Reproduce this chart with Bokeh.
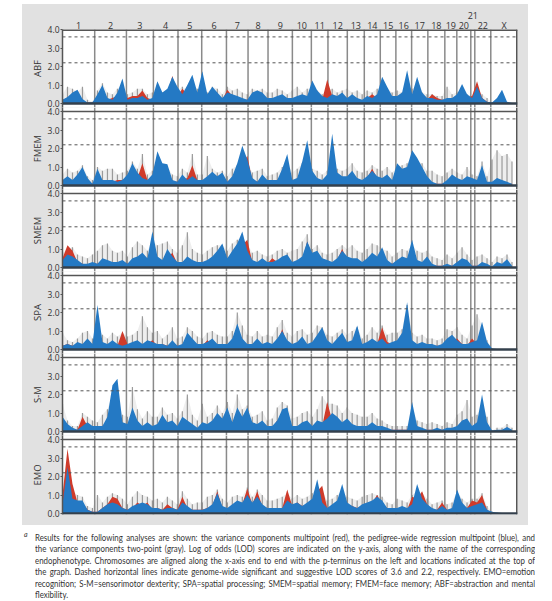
import numpy as np
from bokeh.plotting import figure
from bokeh.models import (Range1d, LinearAxis, FixedTicker, Span, Div, Arrow,
                          NumeralTickFormatter, ColumnDataSource)
from bokeh.layouts import column
from bokeh.embed import file_html
from bokeh.resources import INLINE

# ---------------- data ----------------
chrom_names = [str(i) for i in range(1, 23)] + ["X"]
chrom_len_cm = [258, 254, 216, 197, 190, 198, 173, 160, 195, 152, 133, 155,
                136, 128, 125, 126, 130, 136, 96, 112, 32, 128, 214]
step_cm = 40            # spacing of the LOD values along the genome
lod_ticks = [0, 1, 2, 3, 4]
significant_lod = 3.6
suggestive_lod = 2.2
phenotypes = ["ABF", "FMEM", "SMEM", "SPA", "S-M", "EMO"]

abf_blue = [0.2, 0.35, 0.6, 0.75, 0.25, 0.05, 0.05,  0.5, 1.0, 0.3, 0.2, 0.6, 1.35,
            0.2, 0.3, 0.3, 0.4, 0.2, 0.3,  1.2, 0.6, 0.8, 1.45, 0.9,  0.5, 1.0, 1.55, 0.6,
            1.75, 0.5, 0.9, 0.6, 0.3,  0.6, 0.5, 0.4, 0.3, 0.2,  0.6, 0.7, 0.6, 0.3,
            0.3, 0.4, 0.5, 0.3,  0.3, 0.4, 0.5, 0.4,  1.25, 0.7, 0.4, 0.3,  0.5, 0.4, 0.6,
            0.3, 0.5, 0.3, 0.2,  0.4, 0.3, 0.5,  1.45, 0.9, 0.4,  0.4, 0.6, 1.8,
            0.5, 1.45, 0.6, 0.3,  0.3, 0.2, 0.2,  0.3, 0.3,  0.5, 1.05, 0.5,  0.3,
            0.9, 0.3, 0.1,  0.05, 0.3, 0.75, 0.1, 0.03]
abf_red = [0.2, 0.3, 0.4, 0.3, 0.1, 0.05, 0.05,  0.3, 0.4, 0.2, 0.3, 0.4, 0.5,
           0.3, 0.4, 0.4, 0.7, 0.3, 0.2,  0.4, 0.3, 0.5, 1.5, 0.4,  0.8, 0.5, 0.6, 0.3,
           0.3, 0.2, 0.4, 0.3, 0.2,  0.75, 0.4, 0.3, 0.2, 0.2,  0.3, 0.4, 0.3, 0.2,
           0.2, 0.3, 0.3, 0.2,  0.2, 0.3, 0.3, 0.3,  0.5, 0.3, 0.2, 1.3,  0.4, 0.2, 0.3,
           0.2, 0.3, 0.2, 0.1,  0.3, 0.5, 0.3,  0.4, 0.3, 0.2,  0.2, 0.3, 0.4,
           0.3, 0.7, 0.3, 0.2,  0.5, 0.3, 0.2,  0.2, 0.2,  0.3, 0.4, 0.3,  0.4,
           1.2, 0.3, 0.1,  0.02, 0.02, 0.02, 0.02, 0.02]
abf_gray = [0.5, 0.9, 0.8, 0.6, 0.9, 0.2, 0.1,  0.7, 1.1, 0.6, 0.5, 0.8, 1.0,
            0.5, 0.6, 0.8, 0.8, 0.5, 0.6,  0.9, 0.6, 0.7, 1.0, 0.7,  0.9, 0.7, 1.0, 0.8,
            0.7, 0.6, 0.9, 0.8, 0.5,  0.9, 0.7, 0.8, 0.6, 0.5,  0.8, 0.7, 0.8, 0.6,
            0.6, 0.8, 0.7, 0.5,  0.7, 0.9, 0.6, 0.8,  0.8, 0.7, 0.5, 0.7,  0.8, 0.6, 0.7,
            0.8, 0.6, 0.7, 0.5,  0.7, 0.6, 0.8,  0.9, 0.8, 0.6,  0.7, 0.6, 0.9,
            0.8, 0.9, 0.6, 0.5,  0.5, 0.4, 0.4,  0.9, 0.5,  0.6, 0.8, 0.5,  0.4,
            0.8, 0.5, 0.3,  0.02, 0.02, 0.02, 0.02, 0.02]

fmem_blue = [0.3, 0.5, 0.3, 0.6, 1.0, 0.4, 0.1,  0.9, 0.3, 0.3, 0.3, 0.2, 0.3,
             0.6, 1.2, 0.7, 0.4, 0.3, 0.6,  1.85, 1.2, 1.15, 0.3, 0.2,  0.6, 0.3, 0.5, 0.3,
             0.3, 0.5, 0.75, 0.5, 0.7,  0.2, 0.5, 1.2, 2.15, 1.4,  0.4, 0.2, 0.6, 0.3,
             0.3, 0.3, 0.9, 1.7,  0.3, 0.4, 1.3, 2.45,  0.8, 0.4, 0.3, 0.6,  2.8, 0.7, 0.5,
             0.5, 0.8, 0.4, 0.3,  0.5, 0.8, 0.5,  0.4, 0.6, 0.3,  1.2, 0.9, 1.0,
             1.9, 1.5, 1.0, 0.5,  0.2, 0.1, 0.1,  0.3, 0.6,  0.4, 0.3, 0.5,  0.4,
             0.3, 1.1, 0.2,  0.2, 0.4, 0.3, 0.2, 0.1]
fmem_red = [0.2, 0.3, 0.2, 0.4, 0.5, 0.2, 0.1,  0.3, 0.2, 0.2, 0.2, 0.3, 0.3,
            0.4, 0.5, 0.4, 1.2, 0.3, 0.4,  0.9, 0.8, 0.5, 0.2, 0.2,  0.3, 0.4, 1.1, 0.3,
            0.2, 0.3, 0.4, 0.3, 0.3,  0.2, 0.4, 0.8, 1.2, 1.6,  0.3, 0.2, 0.3, 0.2,
            0.2, 0.3, 0.5, 1.0,  0.2, 0.3, 0.8, 1.0,  0.4, 0.3, 0.2, 0.3,  0.9, 0.4, 0.3,
            0.3, 0.4, 0.3, 0.2,  0.4, 0.9, 0.4,  0.3, 0.4, 0.2,  0.5, 0.6, 0.8,
            1.8, 1.2, 0.6, 0.3,  0.1, 0.1, 0.1,  0.2, 0.3,  0.3, 0.2, 0.3,  0.3,
            0.2, 0.4, 0.1,  0.1, 0.2, 0.2, 0.1, 0.1]
fmem_gray = [0.6, 0.9, 0.7, 0.8, 1.1, 0.5, 0.3,  1.0, 0.8, 0.9, 0.9, 0.6, 0.7,
             0.8, 1.3, 0.9, 1.7, 0.6, 0.8,  1.5, 1.1, 1.0, 0.6, 0.5,  0.9, 0.7, 1.7, 0.6,
             0.6, 1.6, 0.9, 0.7, 0.8,  0.5, 0.9, 1.1, 1.5, 1.3,  0.7, 0.8, 0.9, 0.5,
             0.6, 0.7, 1.0, 1.2,  0.7, 0.9, 1.2, 1.4,  0.9, 0.8, 0.6, 0.8,  1.2, 0.9, 0.8,
             0.9, 1.2, 0.8, 0.7,  0.8, 1.1, 0.9,  0.8, 1.0, 0.7,  1.0, 1.1, 1.2,
             1.5, 1.3, 1.2, 0.8,  0.8, 0.6, 0.5,  0.7, 0.9,  0.7, 0.6, 1.0,  0.6,
             0.5, 1.3, 0.5,  1.4, 1.9, 1.6, 1.7, 1.3]

smem_blue = [0.4, 0.7, 0.6, 0.4, 0.2, 0.2, 0.3,  0.2, 0.5, 0.4, 0.3, 0.3, 0.4,
             0.2, 0.5, 0.6, 0.8, 0.5, 1.95,  0.6, 0.4, 1.0, 0.6, 0.3,  0.3, 0.6, 0.4, 0.3,
             0.3, 0.4, 0.6, 0.9, 1.3,  0.5, 0.9, 1.3, 1.95, 0.9,  0.4, 0.3, 0.5, 0.3,
             0.3, 0.4, 0.6, 0.7,  0.3, 0.4, 0.6, 1.4,  0.8, 0.9, 0.5, 0.4,  0.3, 0.5, 0.9,
             0.6, 0.5, 0.5, 0.3,  0.5, 0.8, 0.6,  1.1, 0.4, 0.2,  0.4, 0.6, 0.5,
             1.5, 0.4, 0.3, 0.6,  0.2, 0.1, 0.1,  0.2, 0.1,  0.3, 0.5, 0.4,  0.1,
             0.1, 0.3, 0.2,  0.05, 0.3, 0.2, 0.45, 0.1]
smem_red = [0.5, 1.2, 0.9, 0.3, 0.2, 0.1, 0.2,  0.2, 0.3, 0.3, 0.2, 0.2, 0.3,
            0.2, 0.3, 0.4, 0.4, 0.3, 0.7,  0.4, 0.3, 0.5, 0.8, 0.2,  0.2, 0.4, 0.3, 0.2,
            0.2, 0.3, 0.4, 0.5, 0.6,  0.4, 0.8, 1.0, 1.2, 1.5,  0.3, 0.2, 0.3, 0.2,
            0.5, 0.3, 0.4, 0.4,  0.2, 0.3, 0.4, 1.4,  0.6, 0.8, 0.4, 0.3,  0.2, 0.4, 1.0,
            0.4, 0.3, 0.3, 0.2,  0.3, 0.5, 0.4,  0.5, 0.3, 0.2,  0.3, 0.4, 0.3,
            0.8, 0.3, 0.2, 0.5,  0.1, 0.1, 0.1,  0.1, 0.1,  0.2, 0.3, 0.2,  0.1,
            0.1, 0.2, 0.1,  0.02, 0.1, 0.1, 0.2, 0.05]
smem_gray = [0.8, 1.0, 1.1, 0.7, 0.6, 0.5, 0.7,  0.9, 1.2, 1.3, 0.9, 0.8, 0.9,
             0.6, 1.1, 1.4, 1.2, 0.9, 1.4,  1.2, 1.3, 1.4, 1.0, 0.8,  1.2, 1.9, 1.0, 0.8,
             0.7, 0.9, 1.1, 1.2, 1.2,  0.9, 1.3, 1.5, 1.6, 1.3,  0.8, 0.9, 0.7, 0.6,
             0.7, 0.9, 1.0, 0.8,  0.9, 1.0, 1.4, 1.8,  1.0, 1.2, 0.8, 0.7,  0.8, 1.0, 1.2,
             1.0, 1.2, 0.9, 0.8,  1.0, 1.3, 1.2,  1.0, 0.9, 0.6,  0.8, 1.0, 0.9,
             1.2, 0.9, 0.8, 0.9,  0.6, 0.5, 0.4,  0.7, 0.5,  0.8, 1.1, 0.7,  0.4,
             0.6, 0.7, 0.5,  0.3, 0.6, 0.5, 0.7, 0.3]

spa_blue = [0.2, 0.3, 0.2, 0.4, 0.3, 0.6, 0.3,  2.4, 0.4, 0.3, 0.5, 0.3, 0.2,
            0.3, 0.4, 0.5, 0.3, 0.5, 0.4,  0.3, 0.3, 0.2, 0.5, 0.2,  0.3, 0.9, 0.6, 0.3,
            0.3, 0.4, 0.6, 0.3, 0.3,  0.3, 0.6, 1.4, 0.6, 0.3,  0.3, 0.6, 0.3, 0.4,
            0.3, 0.6, 1.0, 0.5,  0.3, 0.4, 0.7, 0.3,  0.4, 0.8, 1.2, 0.5,  0.3, 0.6, 0.9,
            0.4, 0.5, 1.3, 0.3,  0.4, 0.6, 0.4,  0.6, 0.3, 0.4,  0.5, 0.9, 2.55,
            0.5, 0.3, 0.4, 0.3,  0.3, 0.2, 0.3,  0.6, 0.8,  0.5, 0.3, 0.3,  0.4,
            0.5, 1.5, 0.4,  0.05, 0.03, 0.03, 0.03, 0.03]
spa_red = [0.2, 0.3, 0.2, 0.2, 0.2, 0.3, 0.2,  1.0, 0.3, 0.2, 0.3, 0.2, 1.0,
           0.3, 0.2, 0.3, 0.2, 0.3, 0.5,  0.2, 0.3, 0.2, 0.3, 0.2,  0.2, 0.4, 0.3, 0.2,
           0.2, 0.5, 0.3, 0.2, 0.3,  0.2, 0.4, 0.5, 0.3, 0.2,  0.2, 0.3, 0.2, 0.3,
           0.2, 0.4, 1.1, 0.3,  0.2, 0.3, 0.4, 0.2,  0.3, 0.6, 0.5, 0.3,  0.2, 0.3, 0.4,
           0.3, 0.3, 0.5, 0.2,  0.3, 0.4, 0.3,  1.2, 0.4, 0.3,  0.3, 0.5, 0.7,
           0.3, 0.2, 0.3, 0.2,  0.2, 0.2, 0.2,  0.4, 0.3,  0.6, 0.3, 0.2,  0.6,
           0.3, 0.5, 0.2,  0.02, 0.02, 0.02, 0.02, 0.02]
spa_gray = [0.9, 0.5, 0.4, 0.6, 0.9, 1.0, 0.6,  1.2, 0.8, 0.6, 0.9, 0.7, 0.9,
            0.7, 0.8, 1.0, 1.8, 1.2, 0.9,  1.0, 0.6, 0.8, 1.2, 0.6,  0.7, 1.2, 1.0, 0.7,
            0.6, 0.9, 1.0, 0.8, 0.7,  0.7, 1.0, 2.0, 1.3, 0.8,  0.7, 1.0, 0.7, 0.8,
            0.7, 1.2, 1.6, 0.9,  0.7, 1.0, 1.1, 0.8,  0.9, 1.3, 1.2, 0.8,  0.7, 0.9, 1.1,
            0.8, 1.0, 1.2, 0.6,  0.8, 1.2, 0.9,  1.3, 0.8, 0.9,  0.9, 1.1, 2.4,
            0.9, 0.7, 0.8, 0.6,  0.6, 0.5, 0.6,  1.1, 1.0,  1.2, 0.8, 0.6,  1.3,
            1.9, 1.3, 0.5,  0.05, 0.03, 0.03, 0.03, 0.03]

sm_blue = [0.8, 0.4, 0.2, 0.1, 0.3, 0.5, 0.3,  0.3, 0.3, 0.8, 2.5, 2.85, 0.5,
           0.4, 1.3, 0.6, 0.3, 0.5, 0.3,  0.4, 0.9, 0.5, 0.6, 0.3,  0.8, 0.6, 0.4, 0.2,
           0.5, 0.4, 0.6, 1.0, 0.7,  1.3, 0.5, 1.3, 0.8, 1.3,  0.5, 0.4, 0.6, 0.3,
           0.3, 0.6, 1.2, 1.3,  0.3, 0.3, 0.5, 0.6,  0.3, 0.6, 0.5, 0.7,  1.0, 0.8, 0.5,
           0.7, 0.4, 0.3, 0.3,  0.3, 0.5, 0.3,  0.3, 0.2, 0.1,  0.1, 0.1, 0.1,
           1.6, 0.3, 0.2, 0.1,  0.1, 0.2, 0.1,  0.2, 0.2,  0.3, 0.6, 0.7,  0.3,
           0.5, 2.0, 0.5,  0.05, 0.1, 0.1, 0.25, 0.1]
sm_red = [0.5, 0.3, 0.1, 0.1, 0.8, 0.3, 0.2,  0.2, 0.3, 0.5, 1.2, 1.0, 0.3,
          0.3, 0.5, 0.4, 0.2, 0.3, 0.2,  0.3, 0.4, 0.3, 0.3, 0.2,  0.4, 0.3, 0.2, 0.1,
          0.3, 0.2, 0.3, 0.4, 0.3,  0.5, 0.3, 0.4, 0.4, 0.5,  0.3, 0.3, 0.4, 0.2,
          0.2, 0.6, 0.5, 0.4,  0.2, 0.2, 0.3, 0.3,  0.2, 0.3, 0.3, 1.6,  0.6, 0.5, 0.3,
          0.4, 0.3, 0.2, 0.2,  0.2, 0.3, 0.2,  0.2, 0.1, 0.1,  0.1, 0.1, 0.1,
          0.5, 0.2, 0.1, 0.1,  0.1, 0.1, 0.1,  0.1, 0.1,  0.2, 0.3, 0.3,  0.2,
          0.3, 0.6, 0.2,  0.02, 0.05, 0.05, 0.1, 0.05]
sm_gray = [1.5, 0.6, 0.3, 0.3, 1.0, 0.8, 0.6,  0.5, 0.9, 1.2, 2.0, 1.8, 0.9,
           0.8, 2.4, 1.2, 0.7, 1.1, 0.8,  0.8, 1.3, 0.9, 1.0, 0.7,  1.1, 2.0, 0.9, 0.6,
           1.5, 0.8, 1.0, 1.4, 1.0,  1.6, 1.0, 2.0, 1.2, 1.4,  0.8, 0.9, 1.1, 0.6,
           0.7, 1.3, 1.6, 1.4,  0.7, 0.8, 1.0, 1.1,  0.8, 1.2, 1.9, 1.5,  1.5, 1.4, 1.0,
           1.3, 1.0, 0.9, 0.8,  0.8, 1.0, 0.7,  0.6, 0.4, 0.3,  0.3, 0.3, 0.3,
           1.3, 0.6, 0.5, 0.4,  0.5, 0.4, 0.3,  0.5, 0.4,  0.9, 1.1, 1.7,  0.8,
           0.9, 1.6, 0.8,  0.05, 0.2, 0.2, 0.4, 0.2]

emo_blue = [0.5, 2.5, 0.8, 0.7, 0.7, 0.2, 0.1,  0.1, 0.3, 0.5, 0.6, 0.5, 0.3,
            0.2, 0.4, 0.5, 0.6, 0.5, 0.3,  0.3, 0.2, 0.3, 0.3, 0.2,  0.6, 0.4, 0.2, 0.2,
            0.2, 0.3, 0.5, 1.1, 0.4,  0.3, 0.5, 0.7, 0.6, 1.0,  0.6, 0.9, 0.5, 0.3,
            0.3, 0.3, 0.3, 0.7,  0.5, 0.6, 0.4, 0.6,  0.8, 1.85, 0.6, 0.3,  0.5, 0.7, 1.6,
            0.6, 0.4, 0.3, 0.5,  0.6, 0.7, 0.9,  0.7, 0.3, 0.3,  0.3, 0.4, 0.3,
            0.5, 1.6, 0.8, 0.5,  0.3, 0.2, 0.4,  0.2, 0.3,  1.3, 0.6, 0.3,  0.4,
            0.5, 0.6, 0.2,  0.1, 0.05, 0.03, 0.03, 0.03]
emo_red = [1.0, 3.5, 1.6, 0.6, 0.6, 0.2, 0.1,  0.1, 0.3, 0.5, 0.9, 0.8, 0.3,
           0.2, 0.3, 0.6, 0.4, 0.6, 0.2,  0.3, 0.2, 0.5, 0.3, 0.2,  0.9, 0.3, 0.2, 0.2,
           0.2, 0.3, 0.4, 1.2, 0.3,  0.2, 0.4, 0.5, 0.5, 1.35,  0.5, 1.2, 0.4, 0.3,
           0.2, 0.3, 0.3, 1.3,  0.4, 0.6, 0.4, 0.5,  0.6, 1.2, 1.5, 0.3,  0.4, 0.5, 0.8,
           0.5, 0.4, 0.3, 0.4,  0.5, 0.6, 1.0,  0.5, 0.3, 0.2,  0.2, 0.3, 0.2,
           0.9, 0.8, 1.2, 0.5,  0.2, 0.2, 0.6,  0.2, 0.2,  0.7, 0.4, 0.3,  0.7,
           0.6, 1.0, 0.2,  0.02, 0.02, 0.02, 0.02, 0.02]
emo_gray = [1.2, 2.2, 1.2, 1.0, 0.9, 0.4, 0.3,  1.0, 0.6, 0.9, 1.1, 1.0, 0.8,
            0.5, 0.9, 1.2, 1.0, 0.9, 0.7,  0.8, 0.6, 0.9, 0.7, 0.5,  1.2, 0.8, 0.5, 0.6,
            0.6, 0.9, 1.0, 1.3, 0.8,  0.6, 0.9, 1.0, 0.9, 1.4,  0.9, 1.3, 1.0, 0.7,
            0.7, 0.8, 0.9, 1.1,  0.8, 1.0, 0.8, 0.9,  1.1, 1.4, 1.2, 0.7,  0.8, 1.0, 1.2,
            0.9, 0.8, 0.7, 0.9,  1.0, 1.1, 1.0,  0.9, 0.6, 0.5,  0.8, 0.7, 0.6,
            1.0, 1.2, 1.1, 0.8,  0.5, 0.6, 0.7,  0.5, 0.6,  1.2, 0.8, 0.6,  0.8,
            0.8, 1.1, 0.4,  0.1, 0.05, 0.03, 0.03, 0.03]

caption_lines = [
    "Results for the following analyses are shown: the variance components multipoint (red), the pedigree-wide regression multipoint (blue), and",
    "the variance components two-point (gray). Log of odds (LOD) scores are indicated on the y-axis, along with the name of the corresponding",
    "endophenotype. Chromosomes are aligned along the x-axis end to end with the p-terminus on the left and locations indicated at the top of",
    "the graph. Dashed horizontal lines indicate genome-wide significant and suggestive LOD scores of 3.6 and 2.2, respectively. EMO=emotion",
    "recognition; S-M=sensorimotor dexterity; SPA=spatial processing; SMEM=spatial memory; FMEM=face memory; ABF=abstraction and mental",
    "flexibility.",
]

# ---------------- styling ----------------
BLUE = "#2479c4"
RED = "#cf3b2b"
GRAY = "#858585"
BG = "#e1e1e1"
FONT = "Open Sans"
TXT = "#333333"

panel_series = {
    "ABF": (abf_red, abf_blue, abf_gray),
    "FMEM": (fmem_red, fmem_blue, fmem_gray),
    "SMEM": (smem_red, smem_blue, smem_gray),
    "SPA": (spa_red, spa_blue, spa_gray),
    "S-M": (sm_red, sm_blue, sm_gray),
    "EMO": (emo_red, emo_blue, emo_gray),
}

bounds = np.concatenate([[0], np.cumsum(chrom_len_cm)])
total = float(bounds[-1])
centers = [int(round(c)) for c in (bounds[:-1] + bounds[1:]) / 2]

px_per_lod = 18.5
pad = 4 / px_per_lod
overlap = 6          # transparent border overlapping the neighbouring panel


def top_axis(ticks, labels, standoff):
    return LinearAxis(ticker=FixedTicker(ticks=ticks),
                      major_label_overrides=dict(zip(ticks, labels)),
                      axis_line_color=None, major_tick_line_color=None,
                      major_tick_out=0, major_tick_in=0,
                      minor_tick_line_color=None, minor_tick_out=0, minor_tick_in=0,
                      major_label_standoff=standoff,
                      major_label_text_font=FONT, major_label_text_font_size="9px",
                      major_label_text_color=TXT)


figs = []
n = len(phenotypes)
for k, name in enumerate(phenotypes):
    red, blue, gray = panel_series[name]
    first = k == 0
    last = k == n - 1
    y0 = -1 / px_per_lod if last else -pad
    y1 = 4.0 if first else 4.0 + pad
    frame_h = int(round((y1 - y0) * px_per_lod))
    top = 25 if first else overlap
    bottom = 11 if last else overlap
    p = figure(width=506, height=frame_h + top + bottom,
               x_range=Range1d(0, total), y_range=Range1d(y0, y1),
               output_backend="svg", toolbar_location=None, x_axis_location=None,
               min_border=0, min_border_left=40, min_border_right=11,
               min_border_top=top, min_border_bottom=bottom,
               background_fill_color="white", border_fill_color=None,
               outline_line_color=None,
               styles={} if first else {"margin-top": f"-{2 * overlap}px"})
    p.grid.visible = False

    ax = p.yaxis[0]
    ax.ticker = FixedTicker(ticks=lod_ticks)
    ax.formatter = NumeralTickFormatter(format="0.0")
    ax.axis_label = name
    ax.axis_label_text_font = FONT
    ax.axis_label_text_font_size = "9.5px"
    ax.axis_label_text_font_style = "normal"
    ax.axis_label_text_color = TXT
    ax.axis_label_standoff = 1
    ax.major_label_text_font = FONT
    ax.major_label_text_font_size = "8.5px"
    ax.major_label_text_color = TXT
    ax.major_label_standoff = 1
    ax.major_tick_out = 2
    ax.major_tick_in = 0
    ax.minor_tick_out = 0
    ax.minor_tick_in = 0
    ax.axis_line_color = "#555555"
    ax.axis_line_width = 1.5
    ax.major_tick_line_color = "#555555"

    # chromosome boundaries
    for b in bounds[1:-1]:
        p.add_layout(Span(location=float(b), dimension="height", line_color="#8a8a8a",
                          line_width=1.5, level="underlay"))
    p.add_layout(Span(location=total, dimension="height", line_color="#555555", line_width=3))

    x = np.arange(len(blue)) * step_cm
    src = ColumnDataSource(dict(x=x, red=red, blue=blue, gray=gray))
    p.varea(x="x", y1=0, y2="gray", source=src, fill_color=GRAY, fill_alpha=0.14)
    p.segment(x0="x", y0=0, x1="x", y1="gray", source=src, line_color=GRAY,
              line_width=1.2, line_alpha=0.8)
    p.varea(x="x", y1=0, y2="red", source=src, fill_color=RED)
    p.varea(x="x", y1=0, y2="blue", source=src, fill_color=BLUE)

    for lvl in (significant_lod, suggestive_lod):
        p.add_layout(Span(location=lvl, dimension="width", line_color="#555555",
                          line_width=1, line_dash="3 3"))
    p.add_layout(Span(location=4.0, dimension="width", line_color="#555555",
                      line_width=3 if first else 1.5))
    p.add_layout(Span(location=0, dimension="width", line_color="#34404c", line_width=2.5))

    if first:
        i21 = chrom_names.index("21")
        main_ticks = [c for i, c in enumerate(centers) if i != i21]
        main_labels = [nm for i, nm in enumerate(chrom_names) if i != i21]
        p.add_layout(top_axis(main_ticks, main_labels, -2), "above")
        p.add_layout(top_axis([centers[i21]], ["21"], -3), "above")
        p.add_layout(Arrow(end=None, start=None, x_start=centers[i21],
                           y_start=4.0 + 2 / px_per_lod, x_end=centers[i21],
                           y_end=4.0 + 11 / px_per_lod, line_color="#333333",
                           line_width=1.5))
    figs.append(p)

panel_block = column(*figs, styles={"margin-left": "22px", "margin-top": "4px",
                                    "background-color": BG})

# ---------------- caption ----------------
line_divs = []
for i, ln in enumerate(caption_lines):
    align = "justify" if i < len(caption_lines) - 1 else "left"
    line_divs.append(f'<div style="text-align:justify;text-align-last:{align};white-space:nowrap">{ln}</div>')
caption_html = (
    '<div style="position:relative;width:500px;height:70px;margin-left:30px;margin-top:2px">'
    '<span style="position:absolute;left:-11px;top:-3px;font-family:Lato,sans-serif;'
    f'font-style:italic;font-size:7px;color:{TXT}">a</span>'
    '<div style="width:500px;overflow:hidden">'
    '<div style="width:610px;transform:scaleX(0.8197);transform-origin:0 0;'
    f'font-family:Lato,sans-serif;font-size:9.6px;line-height:11.4px;color:{TXT}">'
    + "".join(line_divs) + "</div></div></div>"
)
caption = Div(text=caption_html, width=540)

layout = column(panel_block, caption)

open("out.html", "w").write(file_html(layout, INLINE))
